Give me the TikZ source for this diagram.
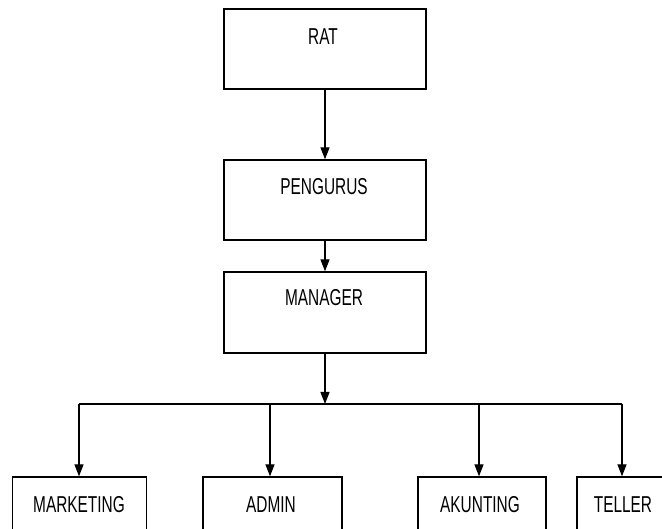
\documentclass[tikz,border=0pt]{standalone}
\usepackage{fontspec}
\newfontfamily\boxfont[FakeStretch=0.67]{Liberation Sans}
\usetikzlibrary{arrows.meta}
\tikzset{
  orgbox/.style={draw=black, line width=1.3pt, rectangle, inner sep=0pt, fill=white},
  orglabel/.style={inner sep=0pt, font=\boxfont\fontsize{23}{27}\selectfont},
  conn/.style={line width=1.3pt, draw=black},
  arr/.style={conn, -{Triangle[length=12pt,width=9pt]}}
}
\begin{document}
\begin{tikzpicture}[x=1pt,y=-1pt]
\useasboundingbox (0,0) rectangle (662,529);
\clip (0,0) rectangle (662,529);
% boxes
\node[orgbox, minimum width=202pt, minimum height=80pt] (rat) at (325,49) {};
\node[orgbox, minimum width=202pt, minimum height=80pt] (peng) at (325,200) {};
\node[orgbox, minimum width=202pt, minimum height=81pt] (man) at (325,312.5) {};
\node[orgbox, minimum width=134pt, minimum height=80pt] (mkt) at (79.7,517) {};
\node[orgbox, minimum width=139pt, minimum height=80pt] (adm) at (272.5,517) {};
\node[orgbox, minimum width=128pt, minimum height=80pt] (aku) at (482,517) {};
\node[orgbox, minimum width=92pt, minimum height=80pt] (tel) at (623,517) {};
% labels
\node[orglabel] (tRat) at (323,37) {RAT};
\node[orglabel] (tPeng) at (324,187) {PENGURUS};
\node[orglabel] (tMan) at (324,298) {MANAGER};
\node[orglabel] (tMkt) at (79,505) {MARKETING};
\node[orglabel] (tAdm) at (271,505) {ADMIN};
\node[orglabel] (tAku) at (480,505) {AKUNTING};
\node[orglabel] (tTel) at (623,505) {TELLER};
% bus coordinates
\coordinate (bc) at (325,404);
\coordinate (b1) at (79,404);
\coordinate (b2) at (270,404);
\coordinate (b3) at (479,404);
\coordinate (b4) at (622,404);
% connectors
\draw[arr] (rat.south) -- (peng.north);
\draw[arr] (peng.south) -- (man.north);
\draw[arr] (man.south) -- (bc);
\draw[conn] (b1) -- (b4);
\draw[arr] (b1) -- (b1 |- mkt.north);
\draw[arr] (b2) -- (b2 |- adm.north);
\draw[arr] (b3) -- (b3 |- aku.north);
\draw[arr] (b4) -- (b4 |- tel.north);
\end{tikzpicture}
\end{document}
